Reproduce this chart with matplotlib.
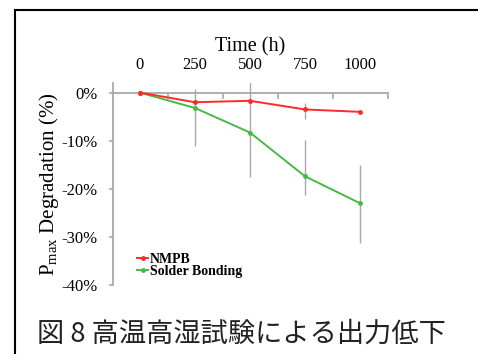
import numpy as np
import matplotlib
matplotlib.use("Agg")
import matplotlib.pyplot as plt
from matplotlib.patches import Rectangle
from matplotlib.ticker import FixedLocator, FuncFormatter

# data
hours = [0, 250, 500, 750, 1000]
nmpb = [0.0, -2.0, -1.7, -3.5, -4.0]
nmpb_err_lo = [0.0, 0.0, 0.0, 1.9, 0.0]
nmpb_err_hi = [0.0, 0.0, 0.0, 1.4, 0.0]
solder = [0.0, -3.2, -8.3, -17.4, -23.0]
solder_err_lo = [0.0, 8.0, 9.2, 3.9, 8.3]
solder_err_hi = [0.0, 4.0, 10.5, 7.6, 8.0]
yticks = [0, -10, -20, -30, -40]
caption = "図 8 高温高湿試験による出力低下"

plt.rcParams['font.family'] = ['Liberation Serif', 'DejaVu Serif']
plt.rcParams['mathtext.fontset'] = 'custom'
plt.rcParams['mathtext.rm'] = 'Liberation Serif'

fig = plt.figure(figsize=(4.78, 3.54), dpi=100)
ax = fig.add_axes([112.5 / 478, 1 - 285 / 354, 275 / 478, 202 / 354])

red = '#ff2a2a'
green = '#45bb45'
grey = '#a8a8a8'

ax.errorbar(hours, solder, yerr=[solder_err_lo, solder_err_hi], fmt='none',
            ecolor=grey, elinewidth=1.0, capsize=0, zorder=1)
ax.errorbar(hours, nmpb, yerr=[nmpb_err_lo, nmpb_err_hi], fmt='none',
            ecolor=grey, elinewidth=1.0, capsize=0, zorder=1)
ax.plot(hours, nmpb, color=red, lw=1.4, marker='o', ms=2.5, label='NMPB', zorder=3)
ax.plot(hours, solder, color=green, lw=1.4, marker='o', ms=2.5, label='Solder Bonding', zorder=2)

ax.set_xlim(-125, 1125)
ax.set_ylim(-40, 2)

for s in ['top', 'right']:
    ax.spines[s].set_visible(False)
ax.spines['bottom'].set_position(('data', 0))
for s in ['bottom', 'left']:
    ax.spines[s].set_color(grey)
    ax.spines[s].set_linewidth(1.3)

# category labels on top, ticks between categories on the zero line
ax.xaxis.set_major_locator(FixedLocator(hours))
ax.xaxis.set_minor_locator(FixedLocator([125, 375, 625, 875, 1125]))
ax.tick_params(axis='x', which='major', length=0, top=True, bottom=False,
               labeltop=True, labelbottom=False, labelsize=12, pad=7)
ax.tick_params(axis='x', which='minor', length=4, width=1.2, color=grey,
               direction='out', bottom=True, top=False)
ax.xaxis.set_label_position('top')
ax.set_xlabel('Time (h)', fontsize=14.5, labelpad=4)

ax.set_yticks(yticks)
ax.yaxis.set_major_formatter(FuncFormatter(lambda v, p: f'{int(v)}%'))
ax.tick_params(axis='y', length=3, width=1.2, color=grey, labelsize=12, pad=8)
ax.set_ylabel(r'P$_{\mathrm{max}}$ Degradation (%)', fontsize=15)
ax.yaxis.set_label_coords(-0.187, 0.5)

ax.legend(loc='lower left', bbox_to_anchor=(0.065, 0.0), frameon=False,
          handlelength=0.8, handletextpad=0.1, labelspacing=-0.05,
          borderpad=0, prop={'size': 10, 'weight': 'bold'})

fig.text(37 / 478, 1 - 334 / 354, caption, fontsize=19.6, va='center', ha='left',
         color='#222222', family=['Noto Sans CJK JP', 'DejaVu Sans'])

fig.add_artist(Rectangle((15 / 478, -0.1), 1.0, 1.1 - 10 / 354, transform=fig.transFigure,
                         fill=False, edgecolor='black', lw=1.5))

fig.savefig('out.png', dpi=100)
